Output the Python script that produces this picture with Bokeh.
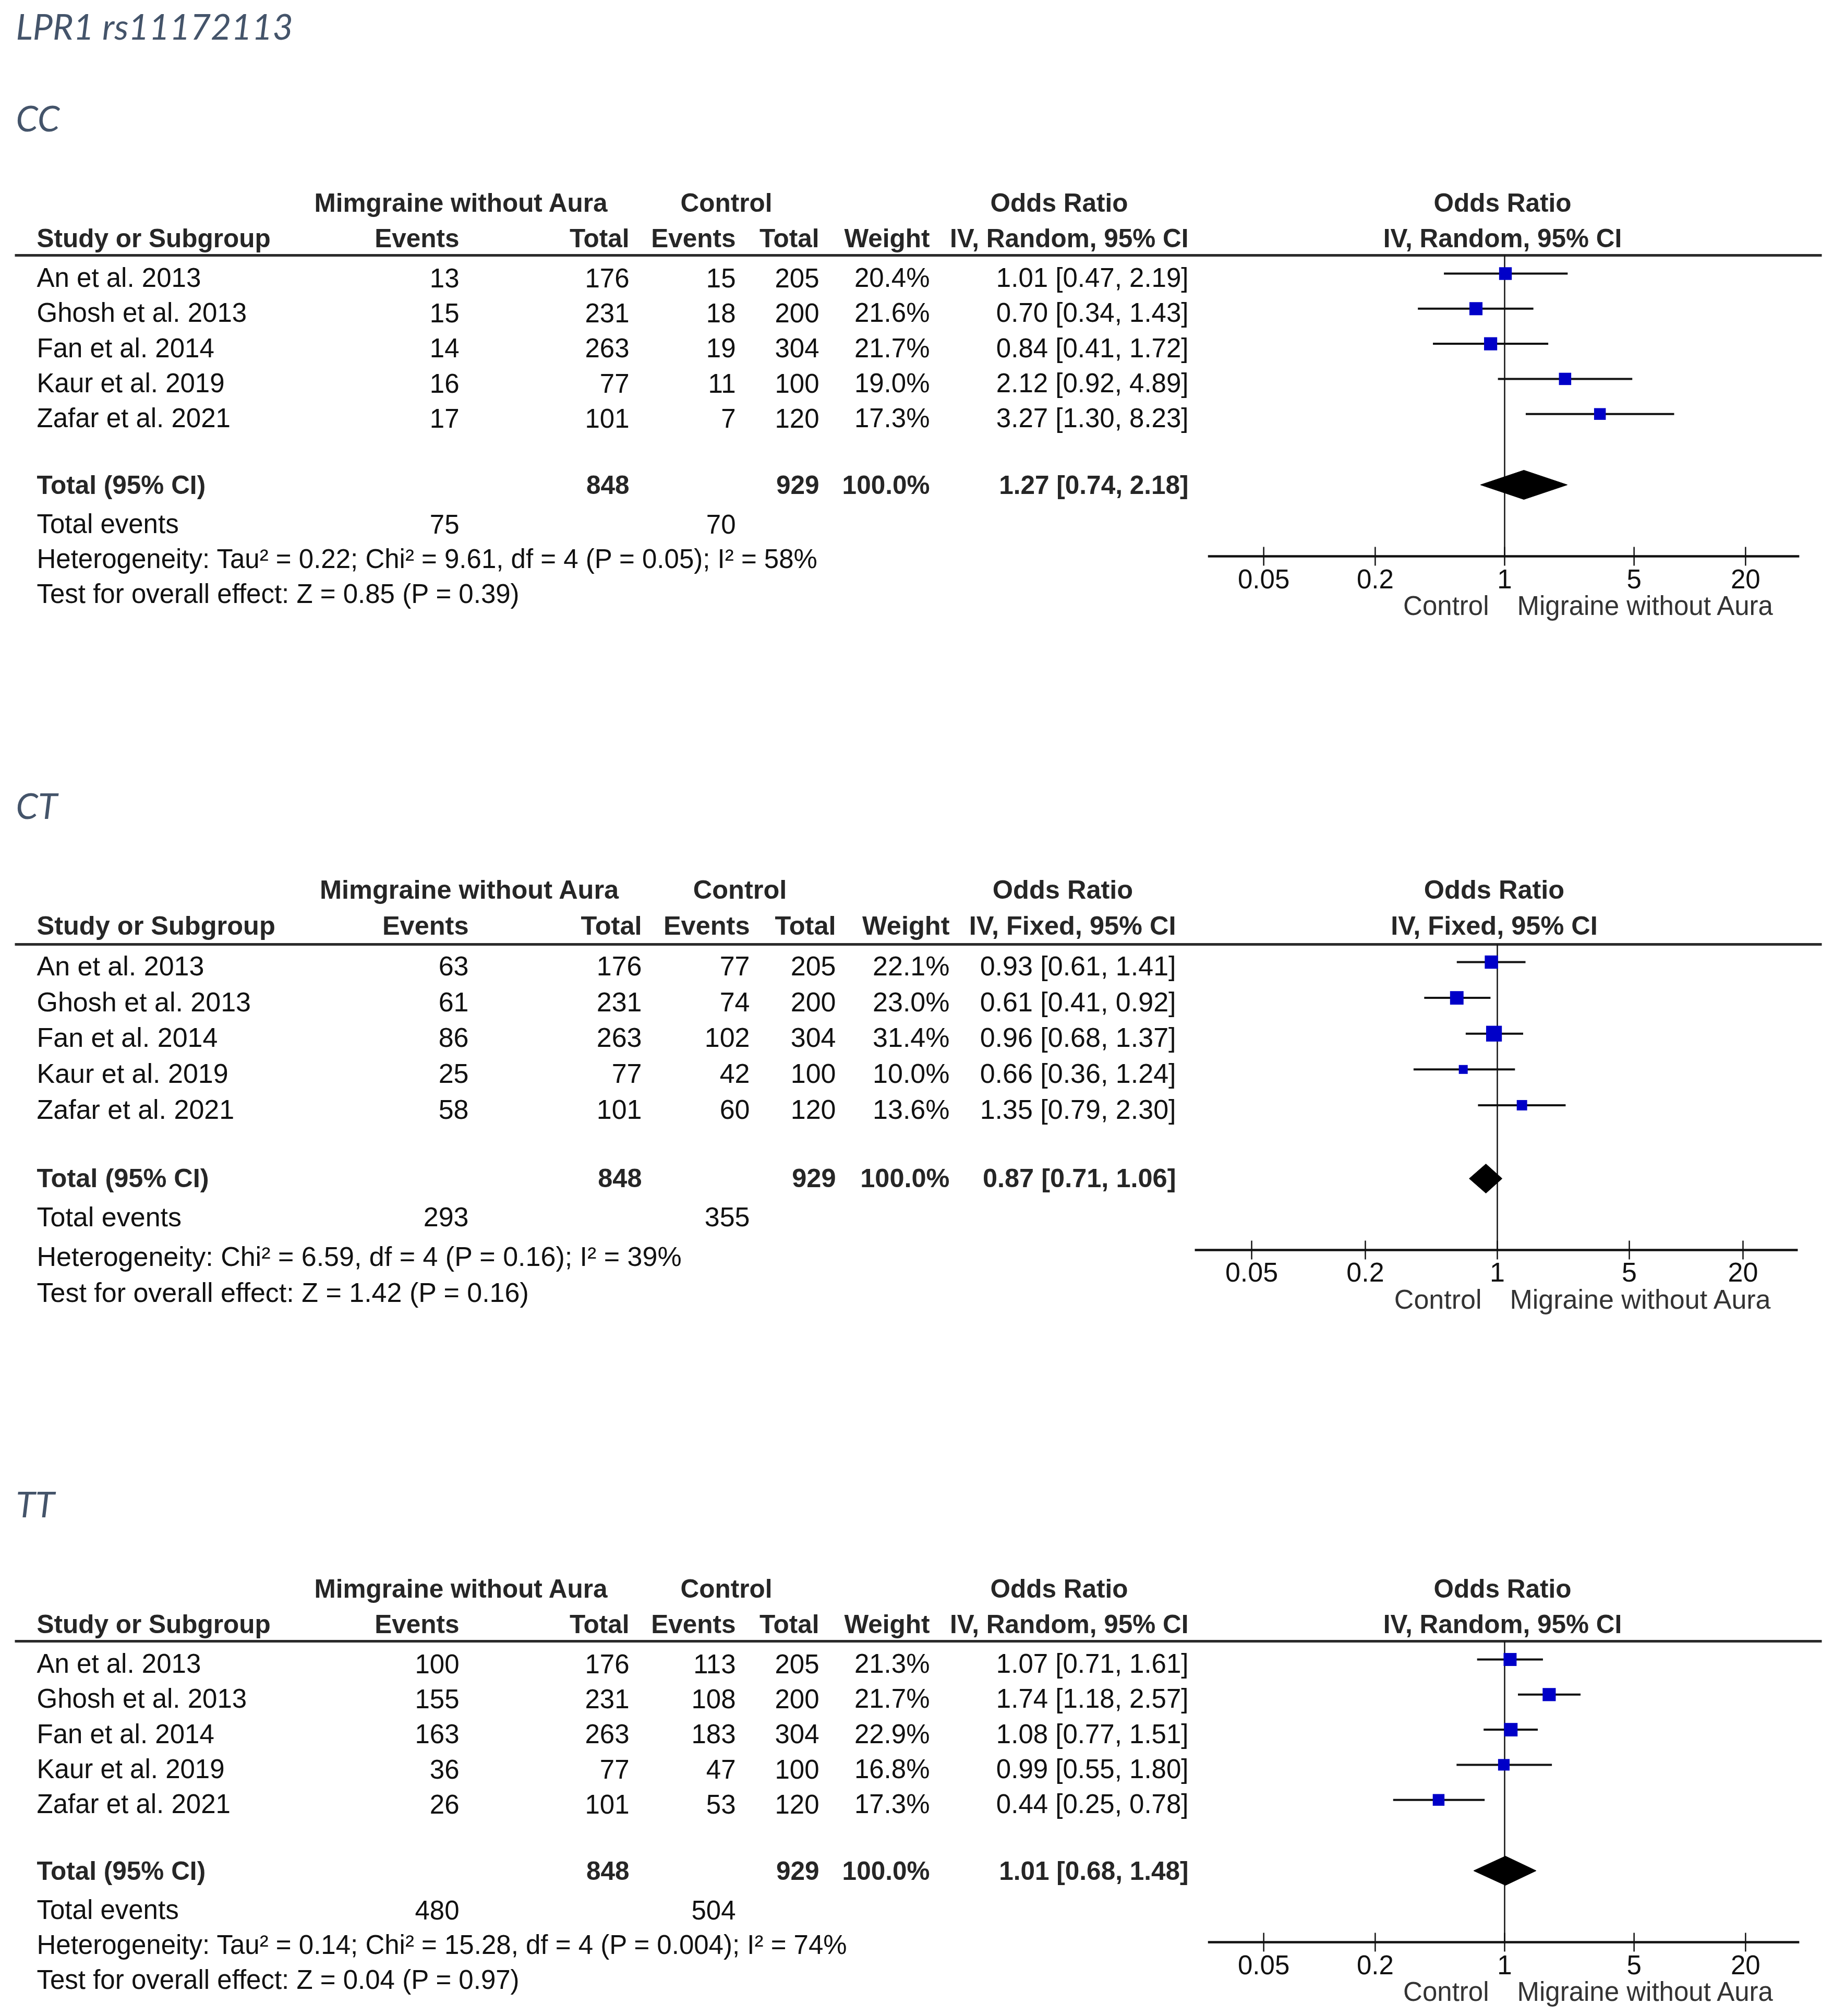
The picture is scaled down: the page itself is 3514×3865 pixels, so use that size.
from bokeh.plotting import figure
from bokeh.models import ColumnDataSource, Range1d, LogScale
from bokeh.core.properties import value
from bokeh.embed import file_html
from bokeh.resources import INLINE
import math

# ---------------- data ----------------
title = "LPR1 rs11172113"
genotypes = ["CC", "CT", "TT"]
studies = ["An et al. 2013", "Ghosh et al. 2013", "Fan et al. 2014", "Kaur et al. 2019", "Zafar et al. 2021"]
case_totals = [176, 231, 263, 77, 101]
ctrl_totals = [205, 200, 304, 100, 120]
case_total_sum = 848
ctrl_total_sum = 929

cc_case_events = [13, 15, 14, 16, 17]
cc_ctrl_events = [15, 18, 19, 11, 7]
cc_weight = [20.4, 21.6, 21.7, 19.0, 17.3]
cc_or = [1.01, 0.70, 0.84, 2.12, 3.27]
cc_lo = [0.47, 0.34, 0.41, 0.92, 1.30]
cc_hi = [2.19, 1.43, 1.72, 4.89, 8.23]
cc_total_or = [1.27, 0.74, 2.18]
cc_total_events = [75, 70]
cc_method = "IV, Random, 95% CI"
cc_het = "Heterogeneity: Tau\u00b2 = 0.22; Chi\u00b2 = 9.61, df = 4 (P = 0.05); I\u00b2 = 58%"
cc_test = "Test for overall effect: Z = 0.85 (P = 0.39)"

ct_case_events = [63, 61, 86, 25, 58]
ct_ctrl_events = [77, 74, 102, 42, 60]
ct_weight = [22.1, 23.0, 31.4, 10.0, 13.6]
ct_or = [0.93, 0.61, 0.96, 0.66, 1.35]
ct_lo = [0.61, 0.41, 0.68, 0.36, 0.79]
ct_hi = [1.41, 0.92, 1.37, 1.24, 2.30]
ct_total_or = [0.87, 0.71, 1.06]
ct_total_events = [293, 355]
ct_method = "IV, Fixed, 95% CI"
ct_het = "Heterogeneity: Chi\u00b2 = 6.59, df = 4 (P = 0.16); I\u00b2 = 39%"
ct_test = "Test for overall effect: Z = 1.42 (P = 0.16)"

tt_case_events = [100, 155, 163, 36, 26]
tt_ctrl_events = [113, 108, 183, 47, 53]
tt_weight = [21.3, 21.7, 22.9, 16.8, 17.3]
tt_or = [1.07, 1.74, 1.08, 0.99, 0.44]
tt_lo = [0.71, 1.18, 0.77, 0.55, 0.25]
tt_hi = [1.61, 2.57, 1.51, 1.80, 0.78]
tt_total_or = [1.01, 0.68, 1.48]
tt_total_events = [480, 504]
tt_method = "IV, Random, 95% CI"
tt_het = "Heterogeneity: Tau\u00b2 = 0.14; Chi\u00b2 = 15.28, df = 4 (P = 0.004); I\u00b2 = 74%"
tt_test = "Test for overall effect: Z = 0.04 (P = 0.97)"

group_case = "Mimgraine without Aura"
group_ctrl = "Control"
favours_left = "Control"
favours_right = "Migraine without Aura"
tick_values = [0.05, 0.2, 1, 5, 20]
tick_labels = ["0.05", "0.2", "1", "5", "20"]
axis_extent = [0.025, 39]

# ---------------- layout (picture pixels) ----------------
W, H = 3498, 3849
FONT = "Liberation Sans"
BLUE = "#0000C8"
INK = "#111111"
HEAD = "#262626"

p = figure(width=W, height=H, output_backend="svg", toolbar_location=None,
           x_range=Range1d(0, W), y_range=Range1d(H, 0),
           x_axis_location=None, y_axis_location=None, min_border=0,
           background_fill_color="white", border_fill_color="white")
p.grid.visible = False
p.outline_line_color = None

geo_cc = dict(dy=0, fs=51, bfs=49.5, label=250, h1=406, h2=474, line=489, row0=551, rowstep=67.3,
              total=947, tevents=1023, het=1090, test=1157, axis=1066,
              name_x=70, ev1=880, tot1=1206, ev2=1410, tot2=1570, wt=1782, orr=2278,
              g1=884, g2=1392, orh=2030, fh=2880, X1=2884, D=355)
geo_ct = dict(dy=0, fs=52, bfs=50.5, label=1568, h1=1724, h2=1793, line=1810, row0=1871, rowstep=68.6,
              total=2277, tevents=2352, het=2428, test=2497, axis=2396,
              name_x=70, ev1=898, tot1=1230, ev2=1437, tot2=1602, wt=1820, orr=2254,
              g1=900, g2=1418, orh=2037, fh=2864, X1=2870, D=362)
geo_tt = dict(geo_cc)
geo_tt["dy"] = 2657

panels = [
    (genotypes[0], geo_cc, cc_case_events, cc_ctrl_events, cc_weight, cc_or, cc_lo, cc_hi,
     cc_total_or, cc_total_events, cc_method, cc_het, cc_test),
    (genotypes[1], geo_ct, ct_case_events, ct_ctrl_events, ct_weight, ct_or, ct_lo, ct_hi,
     ct_total_or, ct_total_events, ct_method, ct_het, ct_test),
    (genotypes[2], geo_tt, tt_case_events, tt_ctrl_events, tt_weight, tt_or, tt_lo, tt_hi,
     tt_total_or, tt_total_events, tt_method, tt_het, tt_test),
]


def txt(xs, ys, texts, align="left", bold=False, size=50, color=INK, font=FONT,
        style=None, rng="default", x_offset=0):
    # ys are the wanted baselines; the renderer draws a little low, so lift by ~0.37 em
    src = ColumnDataSource(dict(x=list(xs), y=[v - 0.37 * size for v in ys], t=list(texts)))
    st = style if style else ("bold" if bold else "normal")
    p.text(x="x", y="y", text="t", source=src, text_align=align, text_baseline="alphabetic",
           text_font=value(font), text_font_size=value(f"{size}px"), text_font_style=st,
           text_color=color, x_range_name=rng, x_offset=x_offset)


# title
txt([30], [74], [title], size=68, color="#44546A", font="Lato", style="italic")

p.extra_x_ranges = {}
p.extra_x_scales = {}

for i, (gname, g, ev1, ev2, wt, orv, lo, hi, tor, tev, method, het, test) in enumerate(panels):
    dy = g["dy"]
    fs = g["fs"]
    bfs = g["bfs"]
    Y = lambda v: v + dy
    rng = f"or{i}"
    p.extra_x_ranges[rng] = Range1d(10 ** ((0 - g["X1"]) / g["D"]), 10 ** ((W - g["X1"]) / g["D"]))
    p.extra_x_scales[rng] = LogScale()

    # panel label
    txt([30], [Y(g["label"])], [gname], size=68, color="#44546A", font="Lato", style="italic")

    # headers
    txt([g["g1"], g["g2"], g["orh"], g["fh"]], [Y(g["h1"])] * 4,
        [group_case, group_ctrl, "Odds Ratio", "Odds Ratio"], align="center", bold=True, size=bfs, color=HEAD)
    txt([g["name_x"]], [Y(g["h2"])], ["Study or Subgroup"], bold=True, size=bfs, color=HEAD)
    txt([g["ev1"], g["tot1"], g["ev2"], g["tot2"], g["wt"], g["orr"]], [Y(g["h2"])] * 6,
        ["Events", "Total", "Events", "Total", "Weight", method], align="right", bold=True, size=bfs, color=HEAD)
    txt([g["fh"]], [Y(g["h2"])], [method], align="center", bold=True, size=bfs, color=HEAD)

    p.segment(x0=[28], x1=[3492], y0=[Y(g["line"])], y1=[Y(g["line"])], line_width=5, line_color="#2b2b2b")

    rows = [Y(g["row0"] + k * g["rowstep"]) for k in range(len(studies))]
    txt([g["name_x"]] * len(studies), rows, studies, size=fs)
    txt([g["ev1"]] * 5, rows, [str(v) for v in ev1], align="right", size=fs)
    txt([g["tot1"]] * 5, rows, [str(v) for v in case_totals], align="right", size=fs)
    txt([g["ev2"]] * 5, rows, [str(v) for v in ev2], align="right", size=fs)
    txt([g["tot2"]] * 5, rows, [str(v) for v in ctrl_totals], align="right", size=fs)
    txt([g["wt"]] * 5, rows, [f"{v:.1f}%" for v in wt], align="right", size=fs)
    txt([g["orr"]] * 5, rows, [f"{a:.2f} [{b:.2f}, {c:.2f}]" for a, b, c in zip(orv, lo, hi)],
        align="right", size=fs)

    ty = Y(g["total"])
    txt([g["name_x"]], [ty], ["Total (95% CI)"], bold=True, size=bfs, color=HEAD)
    txt([g["tot1"], g["tot2"], g["wt"], g["orr"]], [ty] * 4,
        [str(case_total_sum), str(ctrl_total_sum), "100.0%",
         f"{tor[0]:.2f} [{tor[1]:.2f}, {tor[2]:.2f}]"], align="right", bold=True, size=bfs, color=HEAD)
    txt([g["name_x"]], [Y(g["tevents"])], ["Total events"], size=fs)
    txt([g["ev1"], g["ev2"]], [Y(g["tevents"])] * 2, [str(tev[0]), str(tev[1])], align="right", size=fs)
    txt([g["name_x"], g["name_x"]], [Y(g["het"]), Y(g["test"])], [het, test], size=fs)

    # forest plot
    ay = Y(g["axis"])
    p.segment(x0=[1], x1=[1], y0=[Y(g["line"])], y1=[ay], line_width=2.5, line_color="#111111",
              x_range_name=rng)
    my = [r - 27 for r in rows]
    p.segment(x0=lo, x1=hi, y0=my, y1=my, line_width=4, line_color="#111111", x_range_name=rng)
    p.scatter(x=orv, y=my, size=[5.4 * math.sqrt(w) for w in wt], marker="square",
              fill_color=BLUE, line_color=None, x_range_name=rng)
    dyc = ty - 18
    p.patches(xs=[[tor[1], tor[0], tor[2], tor[0]]], ys=[[dyc, dyc - 28, dyc, dyc + 28]],
              fill_color="black", line_color="black", line_width=1, x_range_name=rng)

    # axis
    p.segment(x0=[axis_extent[0]], x1=[axis_extent[1]], y0=[ay], y1=[ay], line_width=4.5,
              line_color="#111111", x_range_name=rng)
    p.segment(x0=tick_values, x1=tick_values, y0=[ay - 18] * 5, y1=[ay + 18] * 5, line_width=2.5,
              line_color="#111111", x_range_name=rng)
    txt(tick_values, [ay + 62] * 5, tick_labels, align="center", size=fs, rng=rng)
    txt([1], [ay + 114], [favours_left], align="right", size=fs, color="#333333", rng=rng, x_offset=-30)
    txt([1], [ay + 114], [favours_right], align="left", size=fs, color="#333333", rng=rng, x_offset=24)

open("out.html", "w").write(file_html(p, INLINE))
